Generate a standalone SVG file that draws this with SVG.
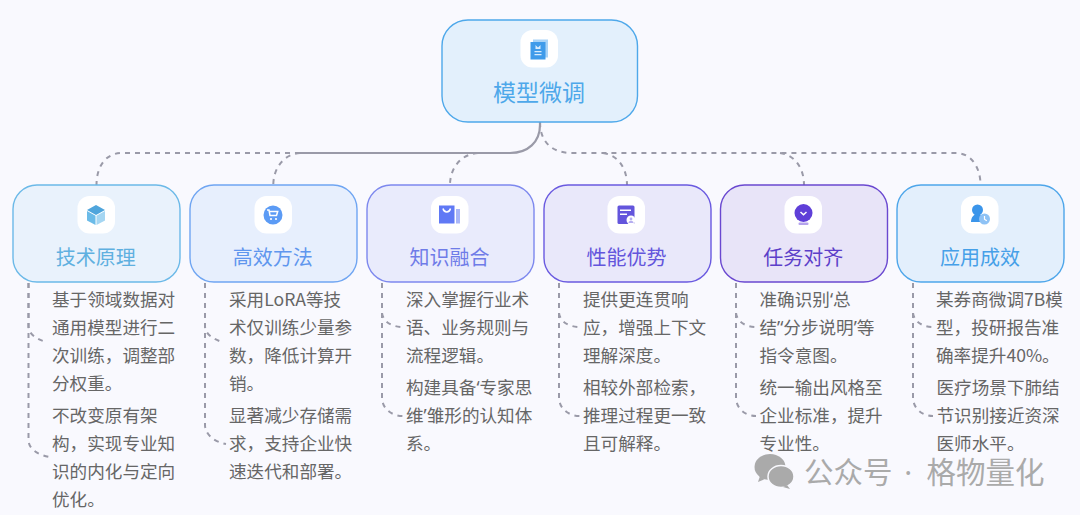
<svg xmlns="http://www.w3.org/2000/svg" width="1080" height="515" viewBox="0 0 1080 515">
<style>
text{font-family:"Noto Sans CJK SC","Noto Sans",sans-serif}
.t{font-size:20px;text-anchor:middle}
.b{font-size:17.6px;fill:#666}
.q{font-family:"Noto Sans",sans-serif}
.tile{fill:#fff}
.c{fill:none;stroke:#9a9aa8;stroke-width:2;stroke-dasharray:5 5}
.s{fill:none;stroke:#9a9aa8;stroke-width:2.200}
.card{stroke-width:1.400}
</style>
<rect width="1080" height="515" fill="#f9f9fe"/>
<g id="connectors">
<path class="s" d="M540 122V125C540 142 528 153 510 153H300"/>
<path class="c" d="M300 153H122C106 153 96.500 166 96.500 185"/>
<path class="c" d="M300 153C284 154 273.300 168 273.300 185"/>
<path class="c" d="M478 153C461 154 450 168 450 185"/>
<path class="c" d="M540 122C540 142 552 153 572 153H956C970 153 980.500 166 980.500 185"/>
<path class="c" d="M603 153C618 155 627 168 627 185"/>
<path class="c" d="M780 153C795 155 804 168 804 185"/>
<path class="c" d="M28.500 283V326C28.500 334 36 339 46 342"/>
<path class="c" d="M28.500 283V440C28.500 449 38 455 50 457"/>
<path class="c" d="M205 283V326C205 334 213 339 222 342"/>
<path class="c" d="M205 283V425C205 434 214 442 226 444"/>
<path class="c" d="M382 283V312C382 320 390 327 403 327"/>
<path class="c" d="M382 283V398C382 407 390 416 403 416"/>
<path class="c" d="M559 283V312C559 320 567 327 580 327"/>
<path class="c" d="M559 283V398C559 407 567 416 580 416"/>
<path class="c" d="M736 283V312C736 320 744 327 756 327"/>
<path class="c" d="M736 283V398C736 407 744 416 756 416"/>
<path class="c" d="M913 283V312C913 320 921 327 933 327"/>
<path class="c" d="M913 283V398C913 407 921 416 933 416"/>
</g>
<g id="root">
<rect class="card" x="442" y="20" width="195.500" height="102" rx="26" fill="#e3f0fc" stroke="#4ea8ea"/>
<rect class="tile" x="520.500" y="30" width="37.500" height="37.500" rx="12"/>
<rect x="533" y="39.500" width="15" height="18" fill="#a9d3f7"/>
<rect x="530.500" y="42" width="15" height="17.500" fill="#3f9bea"/>
<path d="M535.500 45l2.500 2.500 2.500-2.500v4h-5zM534.500 51h7v1.300h-7zM534.500 54h7v1.300h-7z" fill="#d8ecfd"/>
<text x="539" y="101" font-size="23" fill="#4ea8ea" text-anchor="middle">模型微调</text>
</g>
<g id="card1">
<rect class="card" x="13" y="185" width="167" height="97" rx="24" fill="#e9f2fc" stroke="#6bb9e8"/>
<rect class="tile" x="77.500" y="196" width="37.500" height="37.500" rx="12"/>
<path d="M96 205l9 5-9 5-9-5z" fill="#4fa5dc"/>
<path d="M87 211l8.500 4.800V225l-8.500-4.500z" fill="#6bbbe8"/>
<path d="M105 211l-8.500 4.800V225l8.500-4.500z" fill="#a5d6f2"/>
<text class="t" x="95.800" y="264.500" fill="#5fb0e0">技术原理</text>
<text class="b" x="52" y="306">基于领域数据对</text>
<text class="b" x="52" y="334">通用模型进行二</text>
<text class="b" x="52" y="362">次训练，调整部</text>
<text class="b" x="52" y="390">分权重。</text>
<text class="b" x="52" y="422">不改变原有架</text>
<text class="b" x="52" y="450">构，实现专业知</text>
<text class="b" x="52" y="478">识的内化与定向</text>
<text class="b" x="52" y="506">优化。</text>
</g>
<g id="card2">
<rect class="card" x="190" y="185" width="167" height="97" rx="24" fill="#e7effd" stroke="#6fa5f2"/>
<rect class="tile" x="254.500" y="196" width="37.500" height="37.500" rx="12"/>
<circle cx="273" cy="215" r="9.500" fill="#5b9bf5"/>
<path d="M267 210h2l1 5.500h6.500l1.200-4H270" fill="none" stroke="#fff" stroke-width="1.500"/>
<circle cx="271" cy="219" r="1.100" fill="#fff"/>
<circle cx="276" cy="219" r="1.100" fill="#fff"/>
<text class="t" x="272.800" y="264.500" fill="#5f96ee">高效方法</text>
<text class="b" x="229" y="306">采用LoRA等技</text>
<text class="b" x="229" y="334">术仅训练少量参</text>
<text class="b" x="229" y="362">数，降低计算开</text>
<text class="b" x="229" y="390">销。</text>
<text class="b" x="229" y="422">显著减少存储需</text>
<text class="b" x="229" y="450">求，支持企业快</text>
<text class="b" x="229" y="478">速迭代和部署。</text>
</g>
<g id="card3">
<rect class="card" x="367" y="185" width="167" height="97" rx="24" fill="#e9ebfc" stroke="#7d88ee"/>
<rect class="tile" x="431" y="196" width="37.500" height="37.500" rx="12"/>
<rect x="439" y="205.500" width="15.500" height="18" fill="#6079f5"/>
<rect x="456" y="209" width="4" height="14.500" fill="#a9b6f8"/>
<path d="M443 208.500c1 4.500 6.500 4.500 7.500 0" fill="none" stroke="#fff" stroke-width="1.500"/>
<text class="t" x="449.500" y="264.500" fill="#6f7ce8">知识融合</text>
<text class="b" x="406" y="306">深入掌握行业术</text>
<text class="b" x="406" y="334">语、业务规则与</text>
<text class="b" x="406" y="362">流程逻辑。</text>
<text class="b" x="406" y="394">构建具备<tspan class="q">‘</tspan>专家思</text>
<text class="b" x="406" y="422">维<tspan class="q">’</tspan>雏形的认知体</text>
<text class="b" x="406" y="450">系。</text>
</g>
<g id="card4">
<rect class="card" x="544" y="185" width="167" height="97" rx="24" fill="#e9e8fa" stroke="#6a5ae0"/>
<rect class="tile" x="607.500" y="196" width="37.500" height="37.500" rx="12"/>
<rect x="617.500" y="205.500" width="17" height="18.500" rx="1.500" fill="#6355dc"/>
<path d="M620 209.500h11v1.500h-11zM620 213.500h7v1.500h-7z" fill="#fff"/>
<circle cx="631" cy="220" r="4.500" fill="#fff"/>
<circle cx="631" cy="219" r="1.400" fill="#b5aef0"/>
<path d="M628.500 223c0-3 5-3 5 0z" fill="#b5aef0"/>
<text class="t" x="626.500" y="264.500" fill="#6355dc">性能优势</text>
<text class="b" x="583" y="306">提供更连贯响</text>
<text class="b" x="583" y="334">应，增强上下文</text>
<text class="b" x="583" y="362">理解深度。</text>
<text class="b" x="583" y="394">相较外部检索，</text>
<text class="b" x="583" y="422">推理过程更一致</text>
<text class="b" x="583" y="450">且可解释。</text>
</g>
<g id="card5">
<rect class="card" x="720.500" y="185" width="167" height="97" rx="24" fill="#e8e4f8" stroke="#6a48d0"/>
<rect class="tile" x="784.500" y="196" width="37.500" height="37.500" rx="12"/>
<circle cx="803.500" cy="213" r="9" fill="#5f3fd8"/>
<rect x="798.500" y="222.500" width="10" height="2.500" rx="1" fill="#b4a3ec"/>
<path d="M800.500 212l3 2.800 3-2.800" fill="none" stroke="#fff" stroke-width="1.500"/>
<text class="t" x="803.300" y="264.500" fill="#5c3fc9">任务对齐</text>
<text class="b" x="759.500" y="306">准确识别<tspan class="q">‘</tspan>总</text>
<text class="b" x="759.500" y="334">结<tspan class="q">’‘</tspan>分步说明<tspan class="q">’</tspan>等</text>
<text class="b" x="759.500" y="362">指令意图。</text>
<text class="b" x="759.500" y="394">统一输出风格至</text>
<text class="b" x="759.500" y="422">企业标准，提升</text>
<text class="b" x="759.500" y="450">专业性。</text>
</g>
<g id="card6">
<rect class="card" x="897" y="185" width="167" height="97" rx="24" fill="#e3effc" stroke="#4ea6ea"/>
<rect class="tile" x="961" y="196" width="37.500" height="37.500" rx="12"/>
<circle cx="977.500" cy="210" r="5.500" fill="#3b95ea"/>
<path d="M971 222c0-5 3-8 6.500-8l6 2-3 6z" fill="#3b95ea"/>
<circle cx="984.500" cy="219" r="5.500" fill="#8ec2f5"/>
<path d="M984.500 216v3.200l2.300 1.500" fill="none" stroke="#fff" stroke-width="1.200"/>
<text class="t" x="980" y="264.500" fill="#46a0e8">应用成效</text>
<text class="b" x="936" y="306">某券商微调7B模</text>
<text class="b" x="936" y="334">型，投研报告准</text>
<text class="b" x="936" y="362">确率提升40%。</text>
<text class="b" x="936.500" y="394">医疗场景下肺结</text>
<text class="b" x="936.500" y="422">节识别接近资深</text>
<text class="b" x="936.500" y="450">医师水平。</text>
</g>
<g id="watermark" fill="#aaaaaa">
<ellipse cx="770" cy="467" rx="15.500" ry="13"/>
<path d="M760 476l-2 6 7-3z"/>
<ellipse cx="781" cy="476.500" rx="13" ry="11" stroke="#f9f9fe" stroke-width="1.500"/>
<path d="M787 485l3 4-7-2z"/>
<text y="483" font-size="29.500"><tspan x="804">公众号</tspan><tspan class="q" x="896.500"> · </tspan><tspan x="926.500">格物量化</tspan></text>
</g>
</svg>
